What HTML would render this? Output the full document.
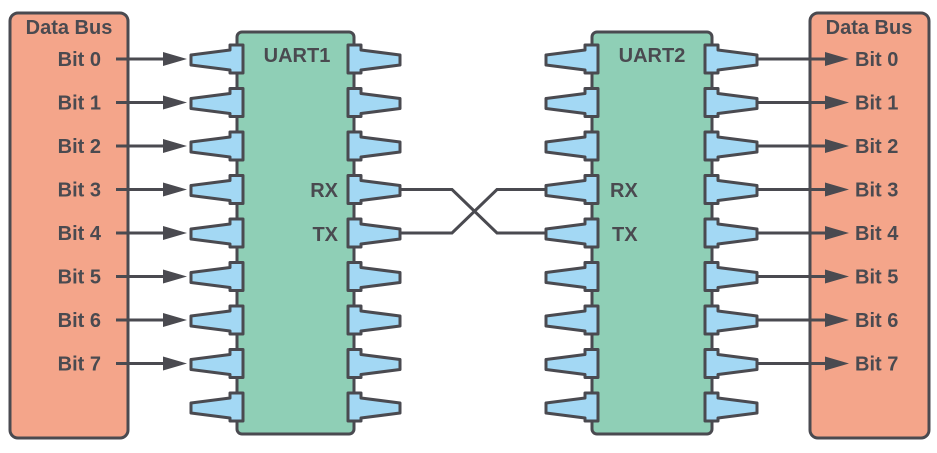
<!DOCTYPE html>
<html><head><meta charset="utf-8"><style>
html,body{margin:0;padding:0;background:#fff;}
svg{display:block;}
text{font-family:"Liberation Sans",sans-serif;font-weight:bold;fill:#4a4a50;font-size:20px;}
</style></head><body>
<svg width="937" height="453" viewBox="0 0 937 453" xmlns="http://www.w3.org/2000/svg">
<defs>
<path id="pl" d="M13,-14 H0 V-9 L-39,-4 V6 L0,11 V14 H13 Z" fill="#a3d8f4" stroke="#4a4a50" stroke-width="3" stroke-linejoin="round"/>
<path id="pr" d="M0,-14 H13 V-9 L52,-4 V6 L13,11 V14 H0 Z" fill="#a3d8f4" stroke="#4a4a50" stroke-width="3" stroke-linejoin="round"/>
<g id="arl"><line x1="116" y1="0" x2="168" y2="0" stroke="#4a4a50" stroke-width="3"/><polygon points="163,-7 187,0 163,7" fill="#4a4a50"/></g>
<g id="arr"><line x1="757" y1="0" x2="830" y2="0" stroke="#4a4a50" stroke-width="3"/><polygon points="825,-7 849,0 825,7" fill="#4a4a50"/></g>
</defs>
<rect x="10" y="13" width="118" height="425" rx="8" fill="#f4a58a" stroke="#4a4a50" stroke-width="3"/>
<rect x="810" y="13" width="119" height="425" rx="8" fill="#f4a58a" stroke="#4a4a50" stroke-width="3"/>
<text x="69" y="34" text-anchor="middle">Data Bus</text>
<text x="869" y="34" text-anchor="middle">Data Bus</text>
<rect x="237" y="32" width="117" height="402" rx="5" fill="#8fcfb6" stroke="#4a4a50" stroke-width="3"/>
<rect x="592" y="32" width="120" height="402" rx="5" fill="#8fcfb6" stroke="#4a4a50" stroke-width="3"/>
<text x="297" y="62" text-anchor="middle">UART1</text>
<text x="652" y="62" text-anchor="middle">UART2</text>
<text x="338" y="197" text-anchor="end">RX</text>
<text x="338" y="241" text-anchor="end">TX</text>
<text x="610" y="197">RX</text>
<text x="612" y="241">TX</text>
<polyline points="400,189.5 452,189.5 497,233 548,233" fill="none" stroke="#4a4a50" stroke-width="3"/>
<polyline points="400,233 452,233 497,189.5 548,189.5" fill="none" stroke="#4a4a50" stroke-width="3"/>
<g transform="translate(0,59)"><use href="#pl" x="230"/><use href="#pr" x="348"/><use href="#pl" x="585"/><use href="#pr" x="705"/><use href="#arl"/><use href="#arr"/><text x="101" y="7" text-anchor="end">Bit 0</text><text x="855" y="7">Bit 0</text></g>
<g transform="translate(0,102.5)"><use href="#pl" x="230"/><use href="#pr" x="348"/><use href="#pl" x="585"/><use href="#pr" x="705"/><use href="#arl"/><use href="#arr"/><text x="101" y="7" text-anchor="end">Bit 1</text><text x="855" y="7">Bit 1</text></g>
<g transform="translate(0,146)"><use href="#pl" x="230"/><use href="#pr" x="348"/><use href="#pl" x="585"/><use href="#pr" x="705"/><use href="#arl"/><use href="#arr"/><text x="101" y="7" text-anchor="end">Bit 2</text><text x="855" y="7">Bit 2</text></g>
<g transform="translate(0,189.5)"><use href="#pl" x="230"/><use href="#pr" x="348"/><use href="#pl" x="585"/><use href="#pr" x="705"/><use href="#arl"/><use href="#arr"/><text x="101" y="7" text-anchor="end">Bit 3</text><text x="855" y="7">Bit 3</text></g>
<g transform="translate(0,233)"><use href="#pl" x="230"/><use href="#pr" x="348"/><use href="#pl" x="585"/><use href="#pr" x="705"/><use href="#arl"/><use href="#arr"/><text x="101" y="7" text-anchor="end">Bit 4</text><text x="855" y="7">Bit 4</text></g>
<g transform="translate(0,276.5)"><use href="#pl" x="230"/><use href="#pr" x="348"/><use href="#pl" x="585"/><use href="#pr" x="705"/><use href="#arl"/><use href="#arr"/><text x="101" y="7" text-anchor="end">Bit 5</text><text x="855" y="7">Bit 5</text></g>
<g transform="translate(0,320)"><use href="#pl" x="230"/><use href="#pr" x="348"/><use href="#pl" x="585"/><use href="#pr" x="705"/><use href="#arl"/><use href="#arr"/><text x="101" y="7" text-anchor="end">Bit 6</text><text x="855" y="7">Bit 6</text></g>
<g transform="translate(0,363.5)"><use href="#pl" x="230"/><use href="#pr" x="348"/><use href="#pl" x="585"/><use href="#pr" x="705"/><use href="#arl"/><use href="#arr"/><text x="101" y="7" text-anchor="end">Bit 7</text><text x="855" y="7">Bit 7</text></g>
<g transform="translate(0,407)"><use href="#pl" x="230"/><use href="#pr" x="348"/><use href="#pl" x="585"/><use href="#pr" x="705"/></g>
</svg>
</body></html>
